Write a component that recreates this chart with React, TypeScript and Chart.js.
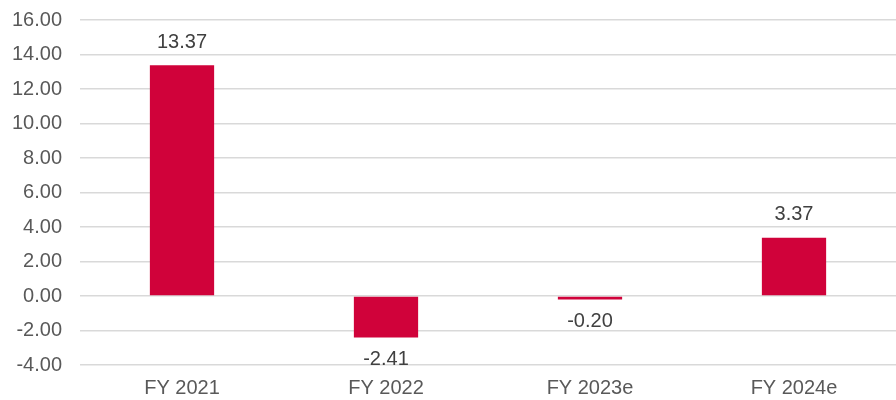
import React, { useEffect, useRef } from "react";
import { Chart, registerables } from "chart.js";

Chart.register(...registerables);

const categories = ["FY 2021", "FY 2022", "FY 2023e", "FY 2024e"];
const values = [13.37, -2.41, -0.2, 3.37];
const yMin = -4;
const yMax = 16;
const yStep = 2;

const FONT = "'Liberation Sans', Arial, sans-serif";

const labelPlugin = {
  id: "valueLabels",
  afterDatasetsDraw(chart: any) {
    const ctx = chart.ctx;
    const meta = chart.getDatasetMeta(0);
    ctx.save();
    ctx.font = `20px ${FONT}`;
    ctx.fillStyle = "#404040";
    ctx.textAlign = "center";
    ctx.textBaseline = "middle";
    meta.data.forEach((bar: any, i: number) => {
      const v = values[i];
      const txt = v.toFixed(2);
      if (v >= 0) {
        ctx.fillText(txt, bar.x, bar.y - 23);
      } else {
        ctx.fillText(txt, bar.x, bar.y + 22);
      }
    });
    ctx.restore();
  },
};

export default function App() {
  const ref = useRef<HTMLCanvasElement>(null);
  useEffect(() => {
    document.body.style.margin = "0";
    document.body.style.overflow = "hidden";
    const chart = new Chart(ref.current!, {
      type: "bar",
      data: {
        labels: categories,
        datasets: [
          {
            data: values,
            backgroundColor: "#D0023A",
            categoryPercentage: 1,
            barPercentage: 0.315,
          },
        ],
      },
      options: {
        animation: false,
        responsive: false,
        maintainAspectRatio: false,
        layout: { padding: 0 },
        plugins: { legend: { display: false }, tooltip: { enabled: false } },
        scales: {
          x: {
            grid: { display: false, drawTicks: false },
            border: { display: false },
            ticks: { color: "#595959", font: { family: FONT, size: 20 }, padding: 11 },
            afterFit: (s: any) => {
              s.height = 35;
            },
          },
          y: {
            min: yMin,
            max: yMax,
            grid: { color: "#D9D9D9", lineWidth: 1.5, drawTicks: false },
            border: { display: false },
            ticks: {
              stepSize: yStep,
              color: "#595959",
              font: { family: FONT, size: 20 },
              padding: 18,
              callback: (v: any) => Number(v).toFixed(2),
            },
            afterFit: (s: any) => {
              s.width = 80;
            },
          },
        },
      },
      plugins: [labelPlugin],
    });
    return () => chart.destroy();
  }, []);
  return (
    <div style={{ position: "absolute", left: 0, top: -10, width: 896, height: 410 }}>
      <canvas ref={ref} width={896} height={410} />
    </div>
  );
}
